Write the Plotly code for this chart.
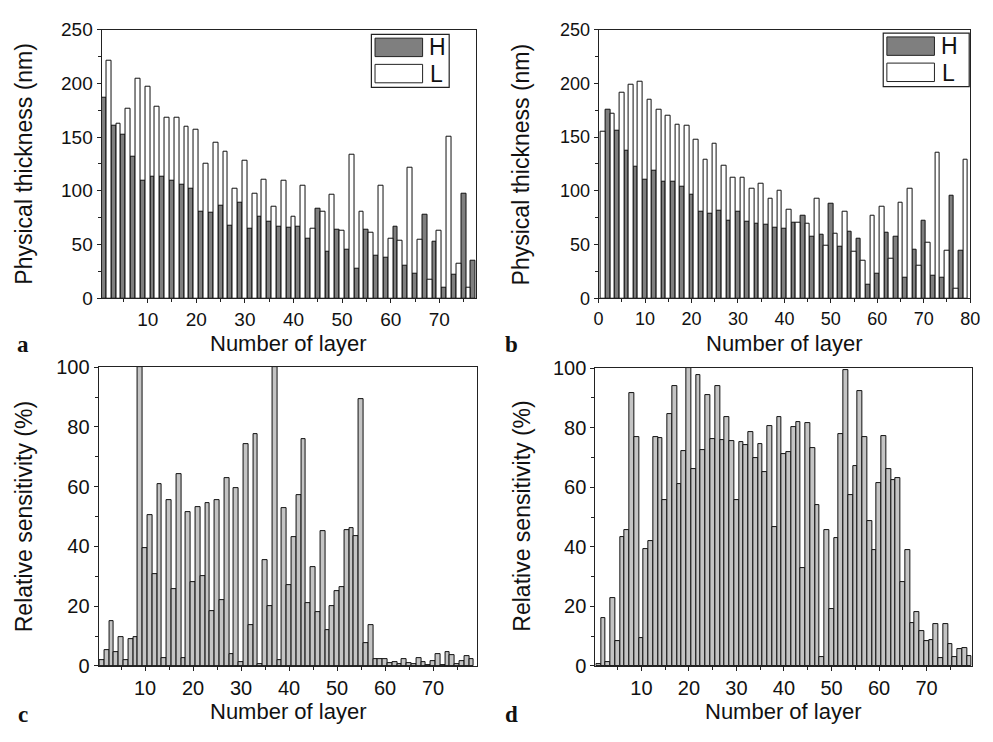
import plotly.graph_objects as go

W, H = 993, 742

# ---------------- data ----------------
# panel a: physical thickness (nm); H on odd layers, L on even layers
a_H_layers = list(range(1, 78, 2))
a_H = [187, 161, 152.5, 131.5, 109.6, 113.5, 113.5, 109, 105.7, 101.5,
       81, 79.6, 86, 67.6, 88.9, 65, 76, 71.5, 67, 66,
       66.6, 55.8, 83.8, 43.2, 63.7, 45.6, 27.6, 63.7, 40, 37.5,
       66.6, 30.3, 23.1, 78, 52.5, 9.6, 21.6, 96.9, 34.8]
a_L_layers = list(range(2, 77, 2))
a_L = [221, 162.8, 176, 204.5, 197, 178, 168.5, 168.5, 160, 156.5,
       125, 145, 136, 101.8, 128, 97, 110, 85, 109, 75.7,
       104.8, 64.5, 80.5, 96.7, 62.7, 134, 80.8, 61, 104.8, 55.8,
       53.7, 121.8, 54.6, 16.8, 62.7, 150, 32.1, 10.2]

# panel b: L on odd layers, H on even layers
b_L_layers = list(range(1, 80, 2))
b_L = [155.3, 172.2, 191.7, 199.2, 201.3, 184.5, 175.8, 170, 161.4, 161,
       147.2, 129.2, 143.6, 123.5, 112.4, 112.4, 102.2, 107, 93.1, 100,
       82.6, 70.3, 69.1, 92.2, 49.3, 60.4, 80.8, 43.3, 35.2, 76.9,
       85, 36.4, 88.6, 102.2, 30.6, 51.7, 135.5, 44.5, 8.7, 128.6]
b_H_layers = list(range(2, 79, 2))
b_H = [175.2, 156.3, 137.3, 122.6, 110.6, 119, 108.2, 108.5, 103.7, 96.2,
       80.2, 78.7, 81.7, 71.8, 80.5, 71.5, 69.7, 68.8, 65.2, 64.3,
       70.6, 76.9, 57.1, 59.5, 88.3, 47.8, 61.6, 55, 12.9, 22.8,
       60.7, 57.7, 19.2, 45, 72.4, 21, 19.5, 95, 44.2]

# panel c: relative sensitivity (%)
c_layers = list(range(1, 79))
c_sens = [2, 5.3, 15.1, 4.6, 9.8, 2, 9.1, 9.7, 100, 39.5,
          50.6, 30.9, 61, 2.6, 55.4, 25.7, 64.2, 2.5, 51.5, 28.2,
          53, 30, 54.5, 18.3, 55.5, 22, 63, 4, 59.6, 1.3,
          74.3, 13.8, 77.5, 0.5, 35.3, 20, 100, 2, 52.8, 26.9,
          43, 57.3, 76, 21, 33, 18, 45, 11.9, 20, 25,
          26.5, 45.3, 46.2, 43.3, 89.3, 7.8, 13.7, 2.2, 2.2, 2.2,
          1, 1.3, 0.5, 2.2, 1, 0.5, 2.8, 1.2, 0.2, 1.5,
          4, 0.2, 4.8, 3.7, 0.7, 1.7, 3.2, 2.2]

# panel d: relative sensitivity (%)
d_layers = list(range(1, 80))
d_sens = [0.8, 16.2, 1.2, 22.7, 8.4, 43.4, 45.5, 91.5, 76.7, 9.5,
          39.3, 42, 77, 76.5, 55.8, 84.7, 94, 61, 72, 100,
          66, 97.5, 72.4, 91, 76.3, 94, 75.7, 83.7, 75.5, 55.8,
          75, 74.2, 78.5, 69.8, 74.5, 65, 80.5, 46.5, 83.7, 71,
          71.8, 80.3, 82, 33, 81.5, 73.2, 54, 3, 45.5, 19,
          43, 78, 99.3, 57.5, 67, 92.3, 76.7, 48.8, 39, 61.5,
          77.3, 66, 62.5, 63, 28, 38.8, 14.5, 18.2, 11.7, 8.4,
          8.8, 14.2, 2.8, 14, 7.3, 3, 5.6, 6, 3.2]

legend_names = ["H", "L"]

# ---------------- helpers ----------------
def px(x):
    return x / W

def py(y):
    return 1 - y / H

FONT = "Liberation Sans, Arial, sans-serif"
GRAY_H = "#7f7f7f"
GRAY_S = "#c4c4c4"
EDGE = "#111111"

fig = go.Figure()

fig.add_trace(go.Bar(x=a_H_layers, y=a_H, name=legend_names[0], width=1,
                     marker=dict(color=GRAY_H, line=dict(color=EDGE, width=1)),
                     xaxis="x", yaxis="y", showlegend=False))
fig.add_trace(go.Bar(x=a_L_layers, y=a_L, name=legend_names[1], width=1,
                     marker=dict(color="white", line=dict(color=EDGE, width=1)),
                     xaxis="x", yaxis="y", showlegend=False))
fig.add_trace(go.Bar(x=b_H_layers, y=b_H, name=legend_names[0], width=1,
                     marker=dict(color=GRAY_H, line=dict(color=EDGE, width=1)),
                     xaxis="x2", yaxis="y2", showlegend=False))
fig.add_trace(go.Bar(x=b_L_layers, y=b_L, name=legend_names[1], width=1,
                     marker=dict(color="white", line=dict(color=EDGE, width=1)),
                     xaxis="x2", yaxis="y2", showlegend=False))
fig.add_trace(go.Bar(x=c_layers, y=c_sens, width=1,
                     marker=dict(color=GRAY_S, line=dict(color=EDGE, width=1)),
                     xaxis="x3", yaxis="y3", showlegend=False))
fig.add_trace(go.Bar(x=d_layers, y=d_sens, width=1,
                     marker=dict(color=GRAY_S, line=dict(color=EDGE, width=1)),
                     xaxis="x4", yaxis="y4", showlegend=False))

def xax(x0, x1, rng, anchor, fsize):
    return dict(domain=[px(x0), px(x1)], range=rng, anchor=anchor,
                showline=True, linecolor="#222", linewidth=1, mirror=True,
                ticks="outside", ticklen=4, tickcolor="#222", tickwidth=1,
                dtick=10, tick0=0, showgrid=False, zeroline=False,
                minor=dict(dtick=5, tick0=0, ticks="outside", ticklen=3, tickcolor="#222"),
                tickfont=dict(family=FONT, size=fsize, color="#111"))

def yax(y0, y1, rng, anchor, dt, mdt, fsize):
    return dict(domain=[py(y1), py(y0)], range=rng, anchor=anchor,
                showline=True, linecolor="#222", linewidth=1, mirror=True,
                ticks="outside", ticklen=4, tickcolor="#222", tickwidth=1,
                dtick=dt, tick0=0, showgrid=False, zeroline=False,
                minor=dict(dtick=mdt, tick0=0, ticks="outside", ticklen=3, tickcolor="#222"),
                tickfont=dict(family=FONT, size=fsize, color="#111"))

fig.update_layout(
    width=W, height=H, margin=dict(l=0, r=0, t=0, b=0),
    paper_bgcolor="white", plot_bgcolor="white",
    barmode="overlay", bargap=0,
    xaxis=xax(98, 478, [0.5, 77.5], "y", 19),
    yaxis=yax(19.3, 296, [0, 250], "x", 50, 25, 19),
    xaxis2=xax(602.7, 980, [0, 80], "y2", 18),
    yaxis2=yax(19.3, 296, [0, 250], "x2", 50, 25, 18),
    xaxis3=xax(95, 479.5, [0.3, 79.2], "y3", 20),
    yaxis3=yax(367, 675, [0, 100], "x3", 20, 10, 20),
    xaxis4=xax(599.4, 982, [0.3, 79.6], "y4", 20),
    yaxis4=yax(368, 675, [0, 100], "x4", 20, 10, 20),
)

ann = []
def text(x, y, s, size, angle=0, family=FONT, bold=False):
    ann.append(dict(x=px(x), y=py(y), xref="paper", yref="paper", text=("<b>%s</b>" % s) if bold else s,
                    showarrow=False, textangle=angle, xanchor="center", yanchor="middle",
                    font=dict(family=family, size=size, color="#111")))

# axis titles
text(288, 343, "Number of layer", 22)
text(791, 343, "Number of layer", 22)
text(288, 722, "Number of layer", 22)
text(790, 722, "Number of layer", 22)
text(19, 157.6, "Physical thickness (nm)", 23, angle=-90)
text(524, 158, "Physical thickness (nm)", 23, angle=-90)
text(19, 521, "Relative sensitivity (%)", 23, angle=-90)
text(524, 521, "Relative sensitivity (%)", 23, angle=-90)
# panel letters
SERIF = "Liberation Serif, Times New Roman, serif"
text(18, 344, "a", 23, family=SERIF, bold=True)
text(514, 344, "b", 23, family=SERIF, bold=True)
text(18, 725, "c", 23, family=SERIF, bold=True)
text(514, 725, "d", 23, family=SERIF, bold=True)

# legends (drawn boxes)
shapes = []
def rect(x0, y0, x1, y1, fill, lw=1.2, color="#222"):
    shapes.append(dict(type="rect", xref="paper", yref="paper",
                       x0=px(x0), x1=px(x1), y0=py(y1), y1=py(y0),
                       fillcolor=fill, line=dict(color=color, width=lw)))

for (bx0, bx1, by0, by1) in [(372, 451, 24, 78.7), (891.7, 979, 22.7, 78)]:
    rect(bx0, by0, bx1, by1, "white", lw=1.2)
    rect(bx0 + 3.7, by0 + 4, bx0 + 52, by0 + 23, GRAY_H, lw=1)
    rect(bx0 + 3.7, by0 + 31, bx0 + 52, by0 + 50, "white", lw=1)
    text(bx0 + 67, by0 + 13.5, legend_names[0], 23)
    text(bx0 + 66, by0 + 41, legend_names[1], 23)

fig.update_layout(annotations=ann, shapes=shapes)
fig.write_html("out.html")
